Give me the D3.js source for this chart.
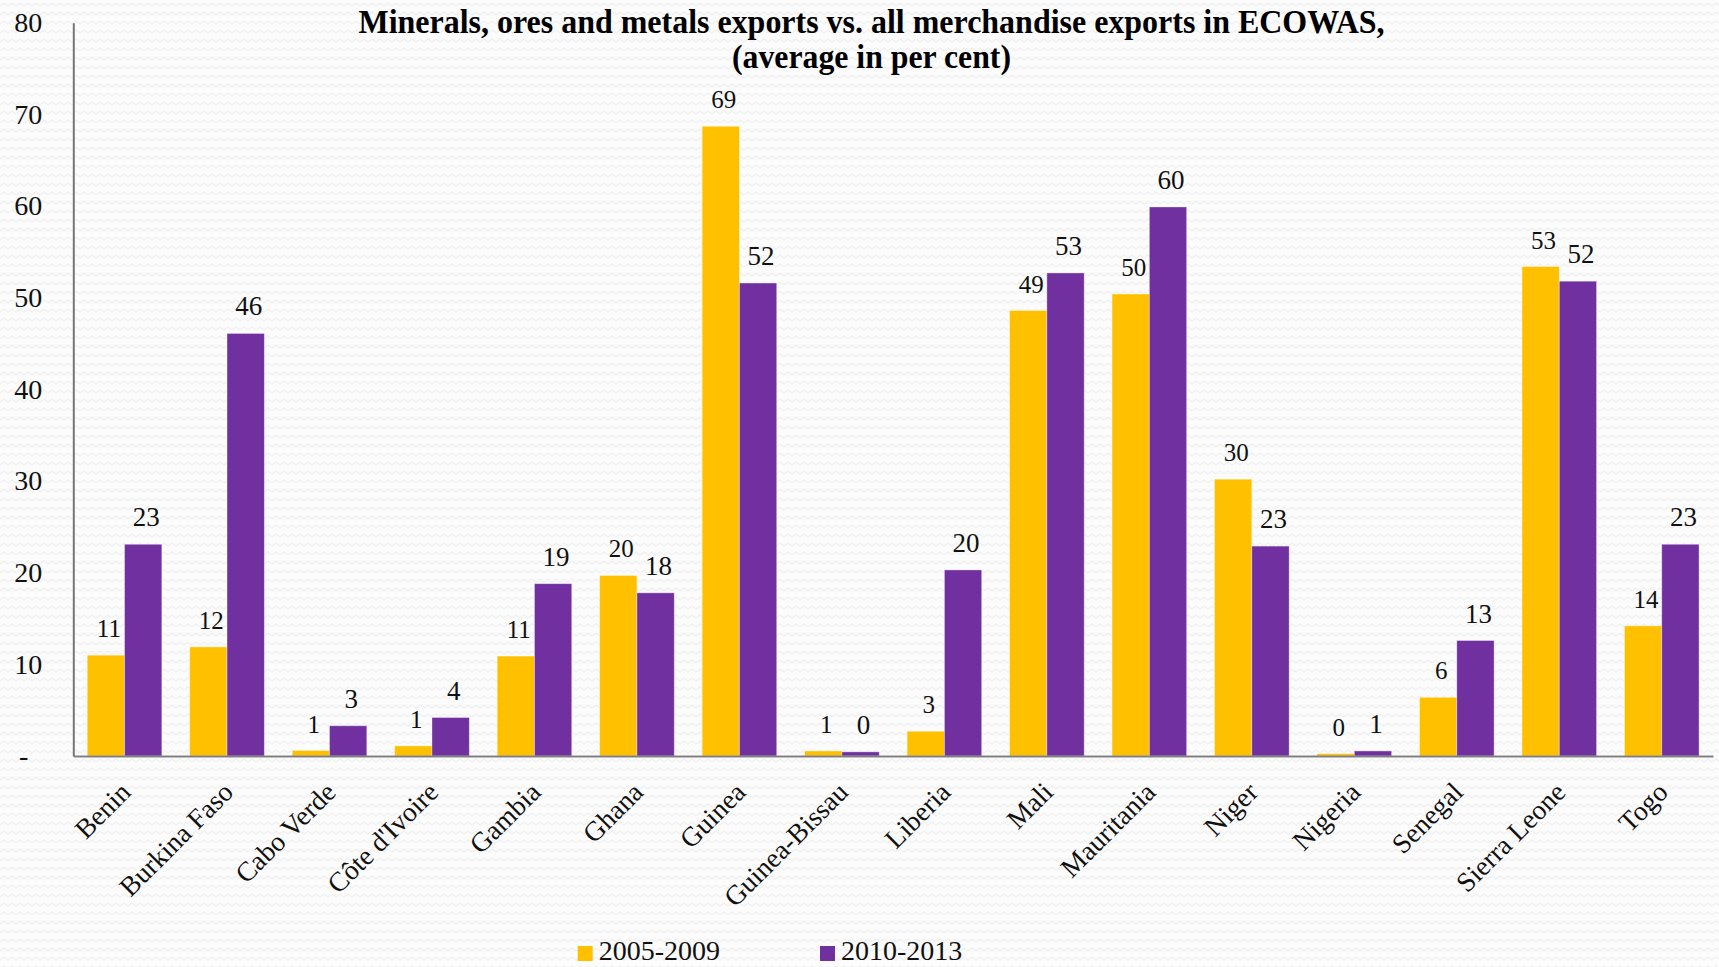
<!DOCTYPE html>
<html>
<head>
<meta charset="utf-8">
<script src="https://cdn.jsdelivr.net/npm/d3@7"></script>
<style>
  html, body { margin: 0; padding: 0; background: #fcfcfc; }
  svg { display: block; }
</style>
</head>
<body>
<svg id="chart" width="1719" height="967"></svg>
<script>
// Share of minerals, ores and metals in total merchandise exports (per cent)
const categories = ["Benin", "Burkina Faso", "Cabo Verde", "Côte d'Ivoire", "Gambia", "Ghana",
  "Guinea", "Guinea-Bissau", "Liberia", "Mali", "Mauritania", "Niger", "Nigeria", "Senegal",
  "Sierra Leone", "Togo"];
const seriesNames = ["2005-2009", "2010-2013"];
const values2005_2009 = [11.0, 11.9, 0.6, 1.1, 10.9, 19.7, 68.7, 0.55, 2.7, 48.6, 50.4, 30.2, 0.25, 6.4, 53.4, 14.2];
const values2010_2013 = [23.1, 46.1, 3.3, 4.2, 18.8, 17.8, 51.6, 0.45, 20.3, 52.7, 59.9, 22.9, 0.55, 12.6, 51.8, 23.1];
const yTicks = [0, 10, 20, 30, 40, 50, 60, 70, 80];
const colors = ["#FFC000", "#7030A0"];
const SERIF = "'Liberation Serif', 'Times New Roman', serif";

const svg = d3.select("#chart");

// subtle zigzag paper texture
const defs = svg.append("defs");
const pat = defs.append("pattern")
  .attr("id", "zigzag").attr("patternUnits", "userSpaceOnUse")
  .attr("width", 8).attr("height", 9);
pat.append("rect").attr("width", 8).attr("height", 9).attr("fill", "#fcfcfc");
pat.append("path").attr("d", "M0,6 L4,3 L8,6")
  .attr("fill", "none").attr("stroke", "#f0f0f0").attr("stroke-width", 1.2);
svg.append("rect").attr("width", 1719).attr("height", 967).attr("fill", "url(#zigzag)");

const x0 = d3.scaleBand().domain(categories).range([73.3, 1713])
  .paddingInner(0.272).paddingOuter(0.136);
const x1 = d3.scaleBand().domain([0, 1]).range([0, x0.bandwidth()]);
const y = d3.scaleLinear().domain([0, 80]).range([756, 22.7]);

const rows = categories.map((c, i) => ({ cat: c, vals: [values2005_2009[i], values2010_2013[i]] }));

// bars
const groups = svg.append("g").selectAll("g").data(rows).join("g")
  .attr("transform", d => `translate(${x0(d.cat)},0)`);
groups.selectAll("rect").data(d => d.vals.map((v, k) => ({ v, k }))).join("rect")
  .attr("x", d => x1(d.k))
  .attr("y", d => y(d.v))
  .attr("width", x1.bandwidth())
  .attr("height", d => y(0) - y(d.v))
  .attr("fill", d => colors[d.k])
  .attr("stroke", "rgba(255,255,255,0.45)")
  .attr("stroke-width", 0.8);

// value labels
groups.selectAll("text").data(d => d.vals.map((v, k) => ({ v, k }))).join("text")
  .attr("x", d => x1(d.k) + x1.bandwidth() / 2 + 3)
  .attr("y", d => y(d.v) - 18)
  .attr("text-anchor", "middle")
  .style("font-family", SERIF)
  .style("font-size", d => d.k === 0 ? "25px" : "27px")
  .style("fill", "#111")
  .text(d => Math.round(d.v));

// y axis
const yAxis = svg.append("g").attr("transform", "translate(73.3,0)")
  .call(d3.axisLeft(y).tickValues(yTicks).tickSize(0).tickPadding(31)
    .tickFormat(d => d === 0 ? "-" : d));
yAxis.select(".domain").attr("stroke", "#767676").attr("stroke-width", 2);
yAxis.selectAll("text").style("font-size", "28px").style("font-family", SERIF)
  .style("fill", "#111")
  .attr("dx", d => d === 0 ? -14 : 0);

// x axis
const xAxis = svg.append("g").attr("transform", "translate(0,756)")
  .call(d3.axisBottom(x0).tickSize(0).tickSizeOuter(0));
xAxis.select(".domain").attr("stroke", "#808080").attr("stroke-width", 2);
xAxis.selectAll(".tick text")
  .attr("y", 0).attr("dy", "0.35em")
  .attr("transform", "translate(1,31) rotate(-45)")
  .attr("text-anchor", "end")
  .style("fill", "#111")
  .style("font-size", "27.5px").style("font-family", SERIF);

// title
const title = svg.append("g").style("font-weight", "bold").style("font-family", SERIF);
title.append("text").attr("x", 871.5).attr("y", 33).attr("text-anchor", "middle")
  .style("font-size", "33px").attr("textLength", 1026).attr("lengthAdjust", "spacingAndGlyphs")
  .text("Minerals, ores and metals exports vs. all merchandise exports in ECOWAS,");
title.append("text").attr("x", 871.5).attr("y", 68).attr("text-anchor", "middle")
  .style("font-size", "33px").attr("textLength", 279).attr("lengthAdjust", "spacingAndGlyphs")
  .text("(average in per cent)");

// legend
const legendX = [577.7, 820];
const legend = svg.append("g").selectAll("g").data(seriesNames).join("g")
  .attr("transform", (d, i) => `translate(${legendX[i]},946)`);
legend.append("rect").attr("width", 15).attr("height", 15).attr("fill", (d, i) => colors[i]);
legend.append("text").attr("x", 21).attr("y", 14)
  .style("font-family", SERIF).style("fill", "#111")
  .style("font-size", "28px").text(d => d);
</script>
</body>
</html>
